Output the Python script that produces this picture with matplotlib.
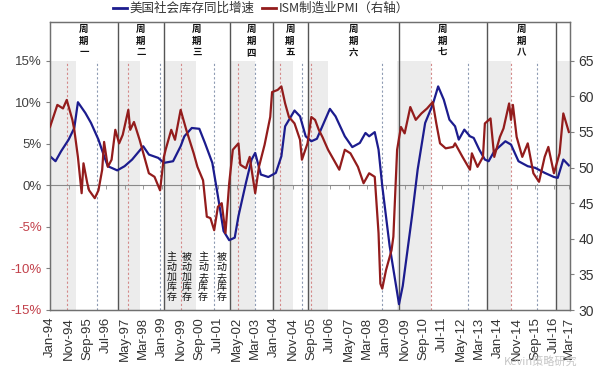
import numpy as np
import pandas as pd
import matplotlib
matplotlib.use('Agg')
import matplotlib.pyplot as plt
from matplotlib.lines import Line2D

plt.rcParams['font.family'] = ['Liberation Sans', 'Noto Sans CJK SC']
cjk = ['Noto Sans CJK SC', 'DejaVu Sans']

# US business inventories, YoY % (left axis)
inv_dates = ['1994-01', '1994-04', '1994-07', '1994-11', '1995-02', '1995-04', '1995-08', '1995-11',
             '1996-03', '1996-06', '1996-08', '1997-01', '1997-05', '1997-09', '1998-03', '1998-06',
             '1998-11', '1999-02', '1999-07', '1999-11', '2000-01', '2000-05', '2000-09', '2000-12',
             '2001-04', '2001-07', '2001-10', '2002-01', '2002-04', '2002-06', '2002-10', '2003-01',
             '2003-03', '2003-06', '2003-10', '2004-02', '2004-05', '2004-07', '2004-12', '2005-03',
             '2005-06', '2005-09', '2005-12', '2006-07', '2006-10', '2007-03', '2007-07', '2007-11',
             '2008-02', '2008-04', '2008-07', '2008-09', '2008-11', '2009-03', '2009-08', '2009-10',
             '2010-03', '2010-06', '2010-10', '2011-02', '2011-05', '2011-08', '2011-11', '2012-02',
             '2012-04', '2012-07', '2012-10', '2012-12', '2013-03', '2013-06', '2013-08', '2013-11',
             '2014-05', '2014-08', '2014-12', '2015-05', '2015-09', '2016-02', '2016-07', '2016-09',
             '2016-12', '2017-03']
inv_yoy = [3.5, 2.9, 4.1, 5.5, 6.9, 10.0, 8.7, 7.5,
           5.5, 3.5, 2.3, 1.8, 2.3, 3.1, 4.7, 3.7,
           3.3, 2.7, 2.9, 4.7, 5.9, 6.9, 6.8, 5.1,
           2.7, -1.3, -5.5, -6.6, -6.3, -3.7, 0.3, 3.1,
           3.9, 1.3, 1.0, 1.5, 3.5, 7.1, 9.0, 8.3,
           5.9, 5.3, 5.6, 9.2, 8.3, 5.9, 4.6, 5.1,
           6.3, 5.9, 6.4, 4.3, -0.1, -7.3, -14.3, -12.1,
           -3.7, 1.9, 7.5, 9.7, 11.9, 10.3, 7.9, 7.1,
           5.5, 6.7, 5.9, 5.7, 4.3, 3.1, 2.9, 4.1,
           5.3, 4.9, 2.9, 2.3, 2.1, 1.5, 1.0, 0.9,
           3.1, 2.4]

# ISM manufacturing PMI (right axis)
pmi_dates = ['1994-01', '1994-05', '1994-08', '1994-10', '1995-01', '1995-02', '1995-04', '1995-06',
             '1995-07', '1995-09', '1995-10', '1996-01', '1996-03', '1996-05', '1996-06', '1996-08',
             '1996-10', '1996-12', '1997-02', '1997-04', '1997-07', '1997-08', '1997-10', '1998-01',
             '1998-04', '1998-06', '1998-09', '1998-12', '1999-02', '1999-03', '1999-06', '1999-08',
             '1999-11', '2000-02', '2000-06', '2000-08', '2000-11', '2001-01', '2001-03', '2001-05',
             '2001-07', '2001-09', '2001-11', '2002-01', '2002-03', '2002-06', '2002-07', '2002-10',
             '2002-12', '2003-03', '2003-05', '2003-08', '2003-11', '2003-12', '2004-03', '2004-05',
             '2004-07', '2004-09', '2004-12', '2005-03', '2005-04', '2005-07', '2005-09', '2005-11',
             '2006-01', '2006-03', '2006-06', '2006-09', '2006-12', '2007-03', '2007-06', '2007-10',
             '2008-01', '2008-04', '2008-07', '2008-09', '2008-10', '2008-11', '2009-01', '2009-04',
             '2009-05', '2009-07', '2009-09', '2009-11', '2010-02', '2010-05', '2010-08', '2010-11',
             '2011-02', '2011-04', '2011-06', '2011-09', '2012-01', '2012-02', '2012-06', '2012-10',
             '2012-11', '2013-02', '2013-05', '2013-06', '2013-09', '2013-11', '2014-02', '2014-04',
             '2014-07', '2014-08', '2014-09', '2014-11', '2015-02', '2015-05', '2015-08', '2015-11',
             '2016-02', '2016-04', '2016-07', '2016-10', '2016-12', '2017-03']
pmi = [55.7, 58.8, 58.3, 59.5, 56.7, 55.3, 51.5, 46.4,
       50.6, 47.8, 46.8, 45.7, 46.8, 49.7, 53.6, 50.1,
       51.1, 55.3, 53.4, 54.6, 58.1, 55.3, 56.4, 53.9,
       51.1, 49.2, 48.7, 46.8, 51.5, 52.5, 55.3, 53.9,
       58.1, 55.3, 52.0, 50.1, 48.2, 43.1, 42.9, 41.2,
       44.5, 45.0, 40.8, 47.8, 52.5, 53.4, 50.4, 49.9,
       51.5, 46.4, 50.1, 53.2, 57.1, 60.6, 60.9, 61.4,
       59.0, 57.1, 56.2, 53.9, 51.1, 53.4, 57.1, 56.7,
       55.3, 54.3, 52.5, 51.1, 49.7, 52.5, 52.0, 50.1,
       47.8, 49.2, 48.7, 40.8, 33.7, 33.0, 35.6, 38.4,
       40.3, 52.5, 55.7, 54.8, 58.5, 56.7, 57.6, 58.3,
       59.2, 56.2, 53.4, 52.7, 52.9, 53.4, 51.5, 49.7,
       52.0, 50.1, 51.5, 56.2, 56.9, 51.5, 54.3, 55.5,
       59.0, 56.7, 58.8, 54.3, 51.5, 53.4, 49.2, 48.0,
       51.5, 52.9, 49.2, 52.0, 57.6, 55.0]

cycle_bounds = ['1997-01-15', '1999-02-01', '2002-01-10', '2003-12-10', '2005-07-01',
                '2009-08-01', '2013-07-01', '2016-08-10']
cycle_names = ['周期一', '周期二', '周期三', '周期四', '周期五', '周期六', '周期七', '周期八', '']
shade_periods = [('1994-01', '1995-03'), ('1997-02', '1998-01'), ('1999-02', '2000-07'),
                 ('2002-02', '2003-03'), ('2003-12', '2004-11'), ('2005-07', '2006-06'),
                 ('2009-07', '2011-01'), ('2013-07', '2014-08'), ('2016-08', '2017-04')]
pmi_peak_marks = ['1994-10', '1997-07', '1999-11', '2002-06', '2004-04', '2005-09', '2011-01', '2014-08']
inv_marks = ['1996-02', '1998-12', '2001-05', '2003-03', '2005-04', '2008-11', '2012-09', '2015-10']
phase_labels = ['主动加库存', '被动加库存', '主动去库存', '被动去库存']
phase_dates = ['1999-06', '2000-02', '2000-11', '2001-09']

start, end = pd.Timestamp('1994-01-01'), pd.Timestamp('2017-03-20')

fig = plt.figure(figsize=(6.04, 3.68), dpi=100)
ax = fig.add_axes([50 / 604, 58 / 368, 520 / 604, 288 / 368])
ax2 = ax.twinx()

top_frac = 30 / 34.65
for a, b in shade_periods:
    ax.axvspan(pd.Timestamp(a), min(pd.Timestamp(b), end), ymin=0, ymax=top_frac,
               color='#ececec', lw=0, zorder=0)
for d in pmi_peak_marks:
    ax.axvline(pd.Timestamp(d), ymin=0, ymax=top_frac, color='#d48a8a', lw=0.8,
               ls=(0, (2, 2)), zorder=1)
for d in inv_marks:
    ax.axvline(pd.Timestamp(d), ymin=0, ymax=top_frac, color='#8e9bb3', lw=0.8,
               ls=(0, (2, 2)), zorder=1)
for d in cycle_bounds:
    ax.axvline(pd.Timestamp(d), color='#555555', lw=1.0, zorder=2)

ax.axhline(0, color='#8a8a8a', lw=0.8, zorder=1)

tick_dates = list(pd.date_range('1994-01-01', '2016-07-01', freq='10MS')) + [pd.Timestamp('2017-03-01')]
ax.vlines(tick_dates, -0.45, 0, color='#8a8a8a', lw=0.6, zorder=1)

ax.plot(pd.to_datetime(inv_dates), inv_yoy, color='#1c1c8e', lw=1.6, zorder=3)
ax2.plot(pd.to_datetime(pmi_dates), pmi, color='#931c1c', lw=1.6, zorder=3)

ax.set_xlim(start, end)
ax.set_ylim(-15, 19.65)
ax2.set_ylim(30, 70.44)

ax.set_yticks(range(-15, 20, 5))
ax.set_yticklabels([f'{v}%' for v in range(-15, 20, 5)], fontsize=9.5)
for lbl, v in zip(ax.get_yticklabels(), range(-15, 20, 5)):
    lbl.set_color('#c2404a' if v < 0 else '#404040')
ax2.set_yticks(range(30, 70, 5))
ax2.set_yticklabels([str(v) for v in range(30, 70, 5)], fontsize=10, color='#333333')

ax.set_xticks(tick_dates)
ax.set_xticklabels([d.strftime('%b-%y') for d in tick_dates], rotation=90, fontsize=9.5,
                   color='#333333')
ax.tick_params(axis='x', length=0, pad=5)
ax.tick_params(axis='y', length=3, color='#808080', pad=3)
ax2.tick_params(axis='y', length=3, color='#808080', pad=3)

for a in (ax, ax2):
    for s in a.spines.values():
        s.set_color('#707070')
        s.set_linewidth(0.9)

# cycle names in the top strip
edges = [start] + [pd.Timestamp(d) for d in cycle_bounds] + [end]
for i, name in enumerate(cycle_names):
    if not name:
        continue
    mid = edges[i] + (edges[i + 1] - edges[i]) / 2
    ax.text(mid, 17.4, '\n'.join(name), ha='center', va='center', fontsize=6.8,
            fontweight='bold', family=cjk, linespacing=1.2, color='#111111', zorder=4)

for d, txt in zip(phase_dates, phase_labels):
    ax.text(pd.Timestamp(d), -11.0, '\n'.join(txt), ha='center', va='center', fontsize=7.2,
            family=cjk, linespacing=1.0, color='#111111', zorder=4)

handles = [Line2D([], [], color='#1c1c8e', lw=2), Line2D([], [], color='#931c1c', lw=2)]
fig.legend(handles, ['美国社会库存同比增速', 'ISM制造业PMI（右轴）'], loc='center',
           bbox_to_anchor=(0.432, 0.977), ncol=2, frameon=False,
           prop={'family': cjk, 'size': 9}, handlelength=1.1, handletextpad=0.2,
           columnspacing=0.6, labelcolor='#333333')

fig.text(0.895, 0.018, 'Kevin策略研究', ha='center', va='center', fontsize=8,
         family=cjk, color='#b8b8b8', alpha=0.8)

fig.savefig('out.png', dpi=100)
